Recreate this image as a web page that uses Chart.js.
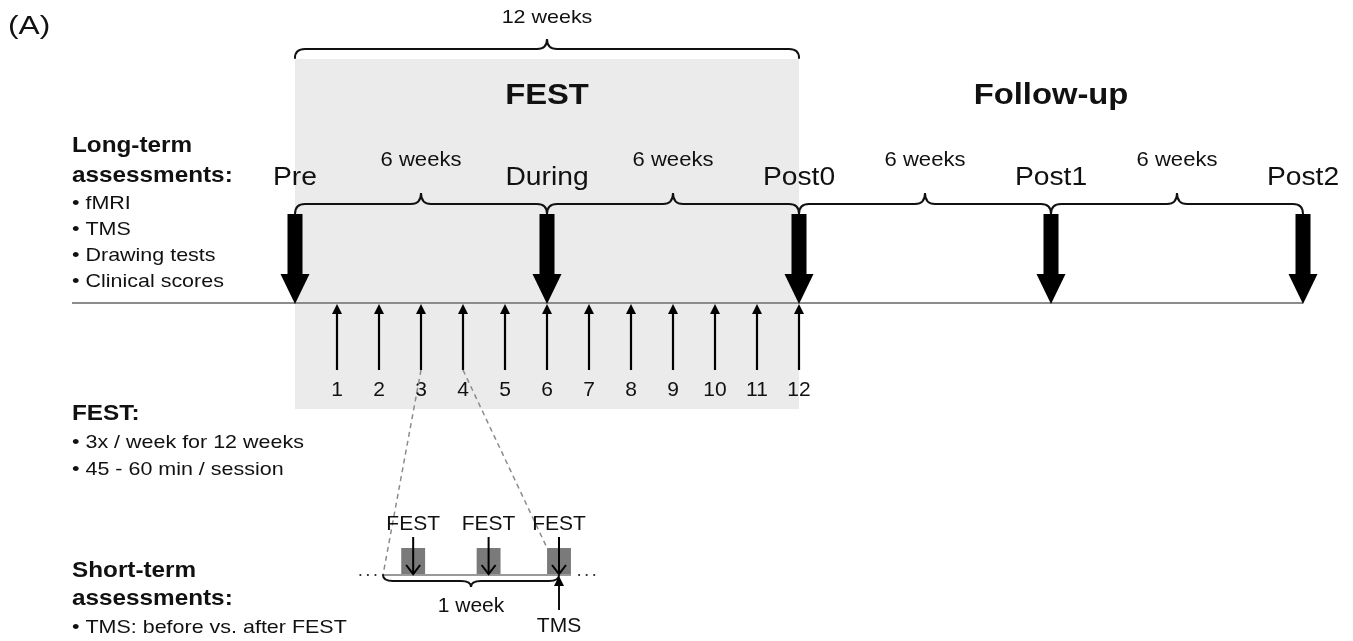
<!DOCTYPE html>
<html><head><meta charset="utf-8">
<script src="https://cdn.jsdelivr.net/npm/chart.js@4.4.1/dist/chart.umd.min.js"></script>
<style>html,body{margin:0;padding:0;background:#fff}#wrap{width:1353px;height:641px;position:relative}</style>
</head><body><div id="wrap"><canvas id="c"></canvas></div>
<script>
// ---------- data ----------
const panelLabel = '(A)';
const phaseTitles = ['FEST', 'Follow-up'];
const phaseCenterWeeks = [6, 18];
const festSpanWeeks = [0, 12];
const festSpanLabel = '12 weeks';
const timepoints = ['Pre', 'During', 'Post0', 'Post1', 'Post2'];
const timepointWeeks = [0, 6, 12, 18, 24];
const intervalLabels = ['6 weeks', '6 weeks', '6 weeks', '6 weeks'];
const sessionWeeks = [1, 2, 3, 4, 5, 6, 7, 8, 9, 10, 11, 12];
const sessionWeekLabels = ['1', '2', '3', '4', '5', '6', '7', '8', '9', '10', '11', '12'];
const zoomWeeks = [3, 4];
const shortTermSessions = ['FEST', 'FEST', 'FEST'];
const shortTermSessionDays = [1.2, 4.2, 7];
const shortTermWeekDays = [0, 7];
const shortTermWeekLabel = '1 week';
const tmsLabel = 'TMS';
const tmsDay = 7;
const longTermTitle = ['Long-term', 'assessments:'];
const longTermItems = ['fMRI', 'TMS', 'Drawing tests', 'Clinical scores'];
const festTitle = ['FEST:'];
const festItems = ['3x / week for 12 weeks', '45 - 60 min / session'];
const shortTermTitle = ['Short-term', 'assessments:'];
const shortTermItems = ['TMS: before vs. after FEST'];

// ---------- layout (pixel rows, styles) ----------
const L = {
  font: '"Liberation Sans", Arial, Helvetica, sans-serif',
  sx: 1.13,
  shadeTop: 59, shadeBottom: 409, shadeColor: '#ebebeb',
  topBraceLine: 49, topBraceDepth: 9, topBraceTip: 10, topBraceTextY: 23,
  phaseTitleY: 104,
  tpLabelY: 185, intervalTextY: 166,
  braceLine: 204, braceDepth: 10, braceTip: 11,
  shaftTop: 214, headTop: 274, timelineY: 303,
  timelineLeft: 72, timelineColor: '#8c8c8c',
  smallArrowBottom: 370, weekNumY: 396,
  leftX: 72,
  ltTitleY: [152, 182], ltItemY: [209, 235, 261, 287],
  festTitleY: [420], festItemY: [448, 475],
  stTitleY: [577, 605], stItemY: [633],
  stLabelY: 530, stBoxTop: 548, stLineY: 575, stArrowTop: 537,
  stBraceLine: 581, stWeekTextY: 612, tmsBottom: 610, tmsTextY: 632,
  boxWidthDays: 0.95
};

const ctxCanvas = document.getElementById('c');

function txt(ctx, s, x, y, size, o) {
  o = o || {};
  ctx.save();
  ctx.font = (o.bold ? 'bold ' : '') + size + 'px ' + L.font;
  ctx.fillStyle = o.color || '#111';
  ctx.textBaseline = 'alphabetic';
  ctx.textAlign = o.align || 'left';
  ctx.translate(x, y);
  ctx.scale(o.sx || 1, 1);
  ctx.fillText(s, 0, 0);
  ctx.restore();
}
function brace(ctx, x1, x2, yLine, depth, tip) {
  const xm = (x1 + x2) / 2, r = Math.min(10, (x2 - x1) / 4);
  ctx.beginPath();
  ctx.moveTo(x1, yLine + depth);
  ctx.quadraticCurveTo(x1, yLine, x1 + r, yLine);
  ctx.lineTo(xm - r, yLine);
  ctx.quadraticCurveTo(xm, yLine, xm, yLine - tip);
  ctx.quadraticCurveTo(xm, yLine, xm + r, yLine);
  ctx.lineTo(x2 - r, yLine);
  ctx.quadraticCurveTo(x2, yLine, x2, yLine + depth);
  ctx.stroke();
}

const diagramPlugin = {
  id: 'diagram',
  afterDraw(chart) {
    const ctx = chart.ctx;
    const X = v => chart.scales.x.getPixelForValue(v);
    const D = v => chart.scales.x2.getPixelForValue(v);
    const Y = v => chart.scales.y.getPixelForValue(v);
    ctx.save();

    // shaded FEST period
    ctx.fillStyle = L.shadeColor;
    ctx.fillRect(X(festSpanWeeks[0]), Y(L.shadeTop), X(festSpanWeeks[1]) - X(festSpanWeeks[0]), Y(L.shadeBottom) - Y(L.shadeTop));

    // timeline
    ctx.strokeStyle = L.timelineColor; ctx.lineWidth = 2;
    ctx.beginPath();
    ctx.moveTo(L.timelineLeft, Y(L.timelineY));
    ctx.lineTo(X(timepointWeeks[timepointWeeks.length - 1]), Y(L.timelineY));
    ctx.stroke();

    // braces
    ctx.strokeStyle = '#111'; ctx.lineWidth = 2; ctx.lineCap = 'round';
    brace(ctx, X(festSpanWeeks[0]), X(festSpanWeeks[1]), Y(L.topBraceLine), L.topBraceDepth, L.topBraceTip);
    txt(ctx, festSpanLabel, X((festSpanWeeks[0] + festSpanWeeks[1]) / 2), Y(L.topBraceTextY), 19, { align: 'center', sx: L.sx });
    for (let i = 0; i < timepointWeeks.length - 1; i++) {
      const a = X(timepointWeeks[i]), b = X(timepointWeeks[i + 1]);
      brace(ctx, a, b, Y(L.braceLine), L.braceDepth, L.braceTip);
      txt(ctx, intervalLabels[i], (a + b) / 2, Y(L.intervalTextY), 19.5, { align: 'center', sx: L.sx });
    }

    // phase titles
    phaseTitles.forEach((t, i) => txt(ctx, t, X(phaseCenterWeeks[i]), Y(L.phaseTitleY), 29, { bold: true, align: 'center', sx: L.sx }));

    // big arrows + labels
    ctx.fillStyle = '#000';
    timepointWeeks.forEach((w, i) => {
      const x = X(w);
      ctx.fillRect(x - 7.5, Y(L.shaftTop), 15, Y(L.headTop) - Y(L.shaftTop) + 1);
      ctx.beginPath();
      ctx.moveTo(x - 14.5, Y(L.headTop)); ctx.lineTo(x + 14.5, Y(L.headTop)); ctx.lineTo(x, Y(L.timelineY) + 1);
      ctx.closePath(); ctx.fill();
      txt(ctx, timepoints[i], x, Y(L.tpLabelY), 25, { align: 'center', sx: L.sx });
    });

    // session week arrows
    ctx.strokeStyle = '#000'; ctx.lineWidth = 2.2; ctx.lineCap = 'butt';
    sessionWeeks.forEach((w, i) => {
      const x = X(w);
      ctx.beginPath(); ctx.moveTo(x, Y(L.smallArrowBottom)); ctx.lineTo(x, Y(L.timelineY) + 8); ctx.stroke();
      ctx.beginPath(); ctx.moveTo(x - 5, Y(L.timelineY) + 11); ctx.lineTo(x + 5, Y(L.timelineY) + 11); ctx.lineTo(x, Y(L.timelineY) + 1);
      ctx.closePath(); ctx.fill();
      txt(ctx, sessionWeekLabels[i], x, Y(L.weekNumY), 21, { align: 'center' });
    });

    // left text blocks
    const leftBlock = (titles, tY, items, iY) => {
      titles.forEach((t, i) => txt(ctx, t, L.leftX, Y(tY[i]), 21.5, { bold: true, sx: L.sx }));
      items.forEach((t, i) => txt(ctx, '\u2022 ' + t, L.leftX, Y(iY[i]), 19, { sx: L.sx }));
    };
    leftBlock(longTermTitle, L.ltTitleY, longTermItems, L.ltItemY);
    leftBlock(festTitle, L.festTitleY, festItems, L.festItemY);
    leftBlock(shortTermTitle, L.stTitleY, shortTermItems, L.stItemY);
    txt(ctx, panelLabel, 8, 34, 26, { sx: 1.22 });

    // zoom dashed lines
    ctx.strokeStyle = '#8c8c8c'; ctx.lineWidth = 1.5; ctx.setLineDash([5, 4]);
    ctx.beginPath();
    ctx.moveTo(X(zoomWeeks[0]), Y(L.smallArrowBottom)); ctx.lineTo(D(shortTermWeekDays[0]), Y(L.stLineY));
    ctx.moveTo(X(zoomWeeks[1]), Y(L.smallArrowBottom)); ctx.lineTo(D(shortTermSessionDays[2] - L.boxWidthDays / 2), Y(L.stBoxTop));
    ctx.stroke();
    ctx.setLineDash([]);

    // short-term week
    ctx.fillStyle = '#7a7a7a';
    shortTermSessionDays.forEach(d => {
      const a = D(d - L.boxWidthDays / 2), b = D(d + L.boxWidthDays / 2);
      ctx.fillRect(a, Y(L.stBoxTop), b - a, Y(L.stLineY) - Y(L.stBoxTop));
    });
    ctx.strokeStyle = '#999'; ctx.lineWidth = 2;
    ctx.beginPath();
    ctx.moveTo(D(shortTermWeekDays[0]), Y(L.stLineY));
    ctx.lineTo(D(shortTermSessionDays[2] + L.boxWidthDays / 2), Y(L.stLineY));
    ctx.stroke();
    ctx.strokeStyle = '#000'; ctx.lineWidth = 2;
    shortTermSessionDays.forEach((d, i) => {
      const x = D(d);
      ctx.beginPath(); ctx.moveTo(x, Y(L.stArrowTop)); ctx.lineTo(x, Y(L.stLineY) - 1); ctx.stroke();
      ctx.beginPath(); ctx.moveTo(x - 7, Y(L.stLineY) - 10); ctx.lineTo(x, Y(L.stLineY) - 1); ctx.lineTo(x + 7, Y(L.stLineY) - 10); ctx.stroke();
      txt(ctx, shortTermSessions[i], x, Y(L.stLabelY), 21, { align: 'center' });
    });
    // dots
    ctx.fillStyle = '#222';
    [-0.9, -0.6, -0.3].forEach(o => { ctx.beginPath(); ctx.arc(D(shortTermWeekDays[0] + o), Y(L.stLineY), 1.1, 0, Math.PI * 2); ctx.fill(); });
    [7.8, 8.1, 8.4].forEach(o => { ctx.beginPath(); ctx.arc(D(o), Y(L.stLineY), 1.1, 0, Math.PI * 2); ctx.fill(); });
    // brace under week
    ctx.strokeStyle = '#111'; ctx.lineWidth = 2; ctx.lineCap = 'round';
    brace(ctx, D(shortTermWeekDays[0]), D(shortTermWeekDays[1]), Y(L.stBraceLine), -6, -6);
    txt(ctx, shortTermWeekLabel, D((shortTermWeekDays[0] + shortTermWeekDays[1]) / 2), Y(L.stWeekTextY), 21, { align: 'center' });
    // TMS arrow
    const tx = D(tmsDay);
    ctx.lineCap = 'butt'; ctx.fillStyle = '#000';
    ctx.beginPath(); ctx.moveTo(tx, Y(L.tmsBottom)); ctx.lineTo(tx, Y(L.stLineY) + 8); ctx.stroke();
    ctx.beginPath(); ctx.moveTo(tx - 5, Y(L.stLineY) + 11); ctx.lineTo(tx + 5, Y(L.stLineY) + 11); ctx.lineTo(tx, Y(L.stLineY) + 1); ctx.closePath(); ctx.fill();
    txt(ctx, tmsLabel, tx, Y(L.tmsTextY), 21, { align: 'center' });

    ctx.restore();
  }
};

new Chart(ctxCanvas, {
  type: 'scatter',
  data: {
    datasets: [
      { label: 'Timepoints', data: timepointWeeks.map(w => ({ x: w, y: L.timelineY })), pointRadius: 0, xAxisID: 'x', yAxisID: 'y' },
      { label: 'Sessions', data: sessionWeeks.map(w => ({ x: w, y: L.timelineY })), pointRadius: 0, xAxisID: 'x', yAxisID: 'y' },
      { label: 'Short-term', data: shortTermSessionDays.map(d => ({ x: d, y: L.stLineY })), pointRadius: 0, xAxisID: 'x2', yAxisID: 'y' }
    ]
  },
  options: {
    responsive: true, maintainAspectRatio: false, animation: false,
    layout: { padding: 0 },
    plugins: { legend: { display: false }, tooltip: { enabled: false } },
    events: [],
    scales: {
      x: { type: 'linear', display: false, min: -295 / 42, max: (1353 - 295) / 42 },
      x2: { type: 'linear', display: false, min: -383 / 25.143, max: (1353 - 383) / 25.143 },
      y: { type: 'linear', display: false, min: 0, max: 641, reverse: true }
    }
  },
  plugins: [diagramPlugin]
});
</script></body></html>
